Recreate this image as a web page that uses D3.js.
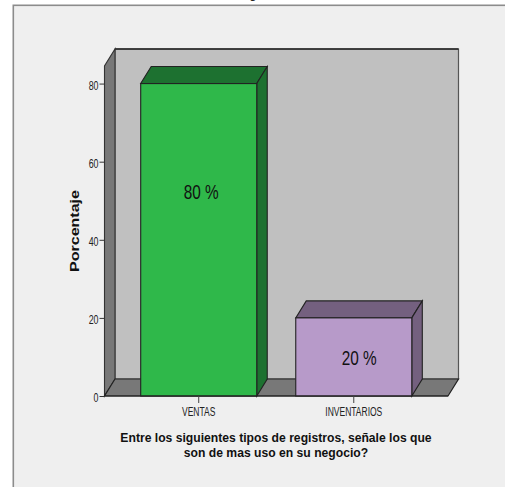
<!DOCTYPE html>
<html><head><meta charset="utf-8">
<script src="https://cdn.jsdelivr.net/npm/d3@7/dist/d3.min.js"></script>
<style>html,body{margin:0;padding:0;background:#fff}svg{display:block}</style>
</head><body><svg id="c" width="505" height="487"></svg>
<script>
const categories=["VENTAS","INVENTARIOS"];
const values=[80,20];
const valueLabels=["80 %","20 %"];
const frontColors=["#2fb84a","#b79ac9"];
const sideColors=["#1d7130","#74607f"];
const yTicks=[0,20,40,60,80];
const yTitle="Porcentaje";
const xTitleLines=["Entre los siguientes tipos de registros, señale los que","son de mas uso en su negocio?"];

const svg=d3.select("#c");
const W=505,H=487;
const dx=10.5,dy=-17;
const y=d3.scaleLinear().domain([0,84.5]).range([396,66]);
const x=d3.scaleBand().domain(categories).range([104.5,448]).paddingInner(0.2516).paddingOuter(0.2335);
const line=p=>"M"+p.map(a=>a.join(",")).join("L")+"Z";
const dark="#222";
const font="Liberation Sans";
// squeeze text horizontally by k, keeping its glyph height
const condense=(sel,k)=>sel.each(function(){
  const t=d3.select(this);
  t.attr("textLength",this.getComputedTextLength()*k).attr("lengthAdjust","spacingAndGlyphs");
});

// outer frame
svg.append("rect").attr("x",13.3).attr("y",5.3).attr("width",W).attr("height",H).attr("fill","#efefef").attr("stroke","#8c8c8c").attr("stroke-width",1.6);
svg.append("text").attr("x",253).attr("y",-2).attr("text-anchor","middle").attr("font-family",font).attr("font-weight","bold").attr("font-size",12).attr("fill","#222").text("g");

const [l,r]=x.range(), y0=y(0), yT=y(y.domain()[1]);
const g=svg.append("g").attr("stroke-linejoin","miter");
// back wall
g.append("path").attr("d",line([[l+dx,y0+dy],[r+dx,y0+dy],[r+dx,yT+dy],[l+dx,yT+dy]])).attr("fill","#c0c0c0").attr("stroke","#555").attr("stroke-width",1.2);
g.append("line").attr("x1",l+dx).attr("x2",r+dx).attr("y1",yT+dy).attr("y2",yT+dy).attr("stroke",dark).attr("stroke-width",1.6);
// left wall
g.append("path").attr("d",line([[l,y0],[l+dx,y0+dy],[l+dx,yT+dy],[l,yT]])).attr("fill","#787878").attr("stroke","#333").attr("stroke-width",1.1);
// floor
g.append("path").attr("d",line([[l,y0],[r,y0],[r+dx,y0+dy],[l+dx,y0+dy]])).attr("fill","#787878").attr("stroke",dark).attr("stroke-width",1.2);

// bars
const labelShiftX=[2.5,5.5], labelShiftY=[-41,8];
const bars=g.selectAll("g.b").data(categories).join("g").attr("class","b");
bars.each(function(c,i){
  const b=d3.select(this),x0=x(c),x1=x0+x.bandwidth(),yv=y(values[i]);
  b.append("path").attr("d",line([[x0,yv],[x1,yv],[x1+dx,yv+dy],[x0+dx,yv+dy]])).attr("fill",sideColors[i]).attr("stroke",dark).attr("stroke-width",1.1);
  b.append("path").attr("d",line([[x1,yv],[x1+dx,yv+dy],[x1+dx,y0+dy],[x1,y0]])).attr("fill",sideColors[i]).attr("stroke",dark).attr("stroke-width",1.1);
  b.append("rect").attr("x",x0).attr("y",yv).attr("width",x1-x0).attr("height",y0-yv).attr("fill",frontColors[i]).attr("stroke",dark).attr("stroke-width",1.1);
  b.append("text").attr("x",(x0+x1)/2+labelShiftX[i]).attr("y",(yv+y0)/2+labelShiftY[i]).attr("text-anchor","middle")
   .attr("font-family",font).attr("font-size",21).attr("fill","#111").text(valueLabels[i]).call(condense,0.73);
});
svg.append("line").attr("x1",l).attr("x2",r).attr("y1",y0).attr("y2",y0).attr("stroke",dark).attr("stroke-width",1.2);

// axes
const yAxis=d3.axisLeft(y).tickValues(yTicks).tickSize(5).tickPadding(1);
const ya=svg.append("g").attr("transform",`translate(${l},0)`).call(yAxis);
ya.select(".domain").remove();
ya.selectAll("line").attr("stroke","#333");
ya.selectAll("text").attr("font-family",font).attr("font-size",13).attr("fill","#222").attr("dy","0.45em").call(condense,0.68);
const xAxis=d3.axisBottom(x).tickSize(7).tickPadding(0);
const xa=svg.append("g").attr("transform",`translate(0,${y0})`).call(xAxis);
xa.select(".domain").remove();
xa.selectAll("line").attr("stroke","#444");
xa.selectAll("text").attr("font-family",font).attr("font-size",12.5).attr("fill","#222").attr("y",20).attr("dy",0).call(condense,0.68);

// titles
svg.append("text").attr("transform","translate(78.5,231) rotate(-90)").attr("text-anchor","middle")
 .attr("font-family",font).attr("font-weight","bold").attr("font-size",12.5).attr("fill","#111").attr("textLength",82).attr("lengthAdjust","spacingAndGlyphs").text(yTitle);
svg.append("g").selectAll("text").data(xTitleLines).join("text").attr("x",276).attr("y",(d,i)=>441.5+i*15.7).attr("text-anchor","middle")
 .attr("font-family",font).attr("font-weight","bold").attr("font-size",13.5).attr("fill","#111").text(d=>d).call(condense,0.9);
</script></body></html>
